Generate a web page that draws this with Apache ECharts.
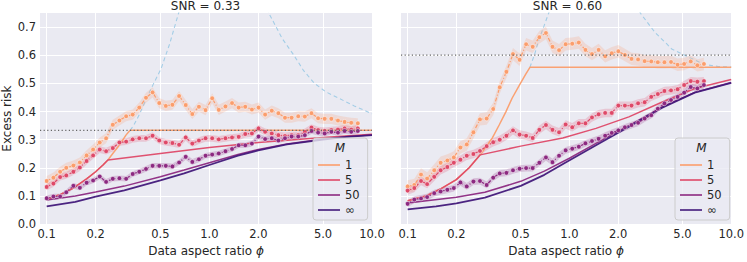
<!DOCTYPE html>
<html><head><meta charset="utf-8">
<script src="https://cdn.jsdelivr.net/npm/echarts@6/dist/echarts.min.js"></script>
<style>html,body{margin:0;padding:0;background:#fff}#c{width:747px;height:262px}</style>
</head><body><div id="c"></div>
<script>
// ---------------- data ----------------
const xTicks = [0.1, 0.2, 0.5, 1.0, 2.0, 5.0, 10.0];
const yTicks = [0.0, 0.1, 0.2, 0.3, 0.4, 0.5, 0.6, 0.7];
const panelTitles = ['SNR = 0.33', 'SNR = 0.60'];
const legendNames = ['1', '5', '50', '\u221e'];
const snrLeft = 0.333, snrRight = 0.60;

const phiLeft = [0.100,0.110,0.121,0.132,0.146,0.160,0.176,0.193,0.212,0.232,0.255,0.280,0.308,0.338,0.371,0.408,0.448,0.492,0.540,0.593,0.652,0.716,0.786,0.863,0.948,1.041,1.143,1.256,1.379,1.515,1.663,1.827,2.006,2.203,2.420,2.657,2.918,3.205,3.520,3.866,4.246,4.663,5.121,5.624,6.177,6.784,7.450,8.182];
const phiRight = [0.100,0.110,0.121,0.132,0.146,0.160,0.176,0.193,0.212,0.232,0.255,0.280,0.308,0.338,0.371,0.408,0.448,0.492,0.540,0.593,0.652,0.716,0.786,0.863,0.948,1.041,1.143,1.256,1.379,1.515,1.663,1.827,2.006,2.203,2.420,2.657,2.918,3.205,3.520,3.866,4.246,4.663,5.121,5.624,6.177,6.784];

// simulated (dotted) series, left panel
const simM1Left = [0.153,0.165,0.186,0.200,0.208,0.219,0.244,0.265,0.290,0.305,0.353,0.368,0.383,0.389,0.414,0.449,0.468,0.430,0.420,0.424,0.455,0.423,0.391,0.417,0.405,0.447,0.406,0.418,0.430,0.414,0.417,0.407,0.414,0.389,0.403,0.394,0.378,0.378,0.383,0.382,0.394,0.376,0.374,0.374,0.368,0.363,0.360,0.358];
const simM5Left = [0.132,0.144,0.167,0.173,0.186,0.201,0.224,0.244,0.265,0.259,0.270,0.290,0.293,0.301,0.305,0.305,0.314,0.297,0.290,0.288,0.282,0.308,0.286,0.297,0.305,0.305,0.301,0.305,0.308,0.310,0.320,0.322,0.340,0.328,0.322,0.316,0.313,0.316,0.316,0.328,0.343,0.334,0.331,0.334,0.336,0.340,0.336,0.340];
const simM50Left = [0.092,0.098,0.098,0.113,0.136,0.129,0.147,0.155,0.169,0.150,0.161,0.163,0.161,0.178,0.186,0.196,0.207,0.207,0.207,0.205,0.219,0.239,0.221,0.230,0.243,0.247,0.251,0.259,0.267,0.280,0.280,0.286,0.311,0.302,0.305,0.297,0.305,0.311,0.311,0.316,0.331,0.325,0.322,0.328,0.325,0.331,0.328,0.331];
// simulated (dotted) series, right panel
const simM1Right = [0.134,0.139,0.176,0.162,0.191,0.218,0.226,0.237,0.272,0.283,0.326,0.372,0.375,0.409,0.486,0.541,0.604,0.584,0.639,0.630,0.664,0.679,0.630,0.618,0.639,0.641,0.645,0.619,0.604,0.619,0.596,0.607,0.614,0.601,0.587,0.585,0.579,0.578,0.575,0.575,0.576,0.566,0.569,0.578,0.564,0.569];
const simM5Right = [0.119,0.128,0.153,0.142,0.168,0.191,0.203,0.218,0.229,0.243,0.249,0.260,0.277,0.291,0.300,0.314,0.333,0.318,0.314,0.306,0.335,0.352,0.335,0.326,0.354,0.344,0.358,0.358,0.379,0.390,0.395,0.395,0.421,0.421,0.421,0.429,0.433,0.452,0.462,0.473,0.475,0.479,0.494,0.508,0.506,0.508];
const simM50Right = [0.072,0.087,0.091,0.096,0.110,0.116,0.122,0.128,0.148,0.134,0.151,0.153,0.139,0.165,0.180,0.182,0.191,0.197,0.199,0.199,0.218,0.237,0.220,0.243,0.262,0.268,0.275,0.287,0.295,0.303,0.314,0.324,0.333,0.344,0.352,0.360,0.375,0.387,0.410,0.429,0.441,0.452,0.467,0.487,0.482,0.494];
// confidence band half widths
const bandLeft = [0.018, 0.012, 0.010];
const bandRight = [0.022, 0.015, 0.012];

// theory (solid) lines, left panel
const thM1Left_x = [0.1,0.12,0.145,0.176,0.2,0.222,0.238,0.255,0.281,0.308,0.326,0.5,1,2,5,10];
const thM1Left_y = [0.087,0.104,0.127,0.161,0.186,0.210,0.228,0.251,0.282,0.317,0.333,0.333,0.333,0.333,0.333,0.333];
const thM5Left_x = [0.1,0.12,0.145,0.176,0.2,0.222,0.238,0.5,1,2,5,10];
const thM5Left_y = [0.087,0.104,0.127,0.161,0.186,0.210,0.228,0.251,0.272,0.290,0.308,0.319];
const thM50Left_x = [0.1,0.15,0.2,0.3,0.5,0.7,1,1.5,2,3,5,7,10];
const thM50Left_y = [0.086,0.100,0.114,0.135,0.168,0.192,0.218,0.247,0.265,0.285,0.302,0.311,0.317];
const thInfLeft_x = [0.1,0.15,0.2,0.3,0.5,0.7,1,1.5,2,3,5,7,10];
const thInfLeft_y = [0.063,0.079,0.098,0.120,0.155,0.180,0.210,0.243,0.262,0.283,0.300,0.310,0.316];
// theory (solid) lines, right panel
const thM1Right_x = [0.1,0.13,0.16,0.2,0.24,0.281,0.334,0.368,0.404,0.443,0.487,0.535,0.57,1,2,5,10];
const thM1Right_y = [0.083,0.100,0.125,0.158,0.200,0.246,0.306,0.352,0.398,0.448,0.490,0.531,0.557,0.557,0.557,0.557,0.557];
const thM5Right_x = [0.1,0.13,0.16,0.2,0.24,0.281,0.5,0.91,1.46,2.33,3.72,5.95,10];
const thM5Right_y = [0.083,0.100,0.125,0.158,0.200,0.246,0.277,0.306,0.340,0.381,0.433,0.482,0.514];
const thM50Right_x = [0.1,0.2,0.3,0.5,0.7,1.0,1.46,2.33,3.72,5.95,10];
const thM50Right_y = [0.075,0.095,0.113,0.152,0.188,0.234,0.287,0.350,0.415,0.468,0.503];
const thInfRight_x = [0.1,0.15,0.2,0.3,0.5,0.7,0.93,1.46,2.33,3.72,5.95,10];
const thInfRight_y = [0.052,0.063,0.074,0.094,0.136,0.175,0.216,0.280,0.346,0.413,0.467,0.502];

// light-blue dashed curves (two branches each)
const blueLeftA_x = [0.326,0.343,0.372,0.41,0.455,0.505,0.57,0.646,0.67];
const blueLeftA_y = [0.333,0.351,0.39,0.445,0.50,0.552,0.64,0.748,0.78];
const blueLeftB_x = [2.2,2.33,2.8,3.31,3.8,4.43,5.2,6.15,7.78,10];
const blueLeftB_y = [0.79,0.748,0.66,0.60,0.545,0.50,0.47,0.449,0.42,0.392];
const blueRightA_x = [0.57,0.611,0.64,0.744,0.78];
const blueRightA_y = [0.557,0.605,0.646,0.749,0.79];
const blueRightB_x = [2.6,2.75,3.39,4.0,4.29,5.5,6.86,8.3,10];
const blueRightB_y = [0.78,0.749,0.68,0.64,0.622,0.592,0.567,0.56,0.558];

// ---------------- style ----------------
const colors = ['#fb9d6c', '#de4968', '#8c2981', '#42197a'];
const XMIN = 0.091, XMAX = 10;
const FONT = 'DejaVu Sans';
const TXT = '#262626';
const grids = [{left: 39, top: 13, width: 333, height: 217}, {left: 401, top: 13, width: 333, height: 217}];

const zip = (xs, ys) => xs.map((x, i) => [x, ys[i]]);

function bandSeries(g, xs, ys, h, color, key) {
  const pts = xs.map((x, k) => [x, ys[k] - h, ys[k] + h]);
  return {
    type: 'custom', name: key, xAxisIndex: g, yAxisIndex: g, silent: true, z: 2,
    data: pts, encode: {x: 0, y: [1, 2]},
    renderItem: (params, api) => {
      if (params.dataIndex !== 0) return null;
      const up = pts.map(p => api.coord([p[0], p[2]]));
      const lo = pts.map(p => api.coord([p[0], p[1]])).reverse();
      return {type: 'polygon', shape: {points: up.concat(lo)}, style: {fill: color, opacity: 0.22}};
    }
  };
}

function panel(g, P) {
  const s = [];
  const common = {xAxisIndex: g, yAxisIndex: g, showSymbol: false, silent: true, animation: false};
  [P.blueA, P.blueB].forEach((b, i) => s.push(Object.assign({}, common, {
    type: 'line', name: 'blue' + g + i, data: b, z: 1,
    lineStyle: {color: '#a3cde6', width: 1.1, type: [4, 3]}
  })));
  P.sims.forEach((sim, i) => s.push(bandSeries(g, P.phi, sim, P.band[i], colors[i], 'band' + g + i)));
  P.theory.forEach((t, i) => s.push(Object.assign({}, common, {
    type: 'line', name: legendNames[i], data: t, z: 3, symbol: 'none',
    itemStyle: {color: colors[i]},
    lineStyle: {color: colors[i], width: i === 3 ? 1.8 : 1.5, opacity: 0.95}
  })));
  P.sims.forEach((sim, i) => s.push(Object.assign({}, common, {
    type: 'line', name: 'sim' + g + i, data: zip(P.phi, sim), z: 4,
    showSymbol: true, symbol: 'circle', symbolSize: 4.6,
    itemStyle: {color: colors[i], borderColor: '#ffffff', borderWidth: 0.5},
    lineStyle: {color: colors[i], width: 1.2, type: [4, 2, 1, 2]}
  })));
  s.push(Object.assign({}, common, {
    type: 'line', name: 'snr' + g, data: [[XMIN, P.snr], [XMAX, P.snr]], z: 5, symbol: 'none',
    lineStyle: {color: '#666666', width: 1.2, type: [1.2, 2.4]}
  }));
  return s;
}

const series = [].concat(
  panel(0, {
    phi: phiLeft, sims: [simM1Left, simM5Left, simM50Left], band: bandLeft, snr: snrLeft,
    theory: [zip(thM1Left_x, thM1Left_y), zip(thM5Left_x, thM5Left_y), zip(thM50Left_x, thM50Left_y), zip(thInfLeft_x, thInfLeft_y)],
    blueA: zip(blueLeftA_x, blueLeftA_y), blueB: zip(blueLeftB_x, blueLeftB_y)
  }),
  panel(1, {
    phi: phiRight, sims: [simM1Right, simM5Right, simM50Right], band: bandRight, snr: snrRight,
    theory: [zip(thM1Right_x, thM1Right_y), zip(thM5Right_x, thM5Right_y), zip(thM50Right_x, thM50Right_y), zip(thInfRight_x, thInfRight_y)],
    blueA: zip(blueRightA_x, blueRightA_y), blueB: zip(blueRightB_x, blueRightB_y)
  })
);

function xAxis(g) {
  return {
    type: 'log', logBase: 10, gridIndex: g, min: XMIN, max: XMAX,
    name: 'Data aspect ratio {i|\u03d5}', nameLocation: 'middle', nameGap: 19,
    nameTextStyle: {fontFamily: FONT, fontSize: 12, color: TXT,
      rich: {i: {fontFamily: FONT, fontSize: 12, color: TXT, fontStyle: 'italic'}}},
    axisLine: {show: false}, axisTick: {show: false, customValues: xTicks},
    axisLabel: {customValues: xTicks, formatter: v => Number(v).toFixed(1), fontFamily: FONT, fontSize: 11.5, color: TXT, margin: 4},
    splitLine: {show: true, lineStyle: {color: '#ffffff', width: 1}}
  };
}
function yAxis(g) {
  return {
    type: 'value', gridIndex: g, min: 0, max: 0.75,
    name: g === 0 ? 'Excess risk' : '', nameLocation: 'middle', nameGap: 27,
    nameTextStyle: {fontFamily: FONT, fontSize: 12, color: TXT},
    axisLine: {show: false}, axisTick: {show: false, customValues: yTicks},
    axisLabel: {show: g === 0, customValues: yTicks, formatter: v => Number(v).toFixed(1), fontFamily: FONT, fontSize: 11.5, color: TXT, margin: 4},
    splitLine: {show: true, lineStyle: {color: '#ffffff', width: 1}}
  };
}
function legend(left) {
  return {
    data: legendNames, orient: 'vertical', left: left, top: 138,
    padding: [21, 8, 4, 5], itemWidth: 22, itemHeight: 2, itemGap: 3, icon: 'rect',
    backgroundColor: 'rgba(234,234,242,0.8)', borderColor: '#cccccc', borderWidth: 1, borderRadius: 3,
    textStyle: {fontFamily: FONT, fontSize: 11.5, color: TXT},
    itemStyle: {opacity: 0.8}, selectedMode: false
  };
}

const chart = echarts.init(document.getElementById('c'), null, {renderer: 'svg', width: 747, height: 262});
chart.setOption({
  animation: false,
  backgroundColor: '#ffffff',
  grid: grids.map(gr => Object.assign({show: true, backgroundColor: '#eaeaf2', borderWidth: 0, containLabel: false}, gr)),
  xAxis: [xAxis(0), xAxis(1)],
  yAxis: [yAxis(0), yAxis(1)],
  legend: [legend(313), legend(675)],
  graphic: [
    {type: 'text', x: 205.5, y: 0, style: {text: panelTitles[0], font: '12px "DejaVu Sans"', fill: TXT, textAlign: 'center', textVerticalAlign: 'top'}},
    {type: 'text', x: 567.5, y: 0, style: {text: panelTitles[1], font: '12px "DejaVu Sans"', fill: TXT, textAlign: 'center', textVerticalAlign: 'top'}},
    {type: 'text', x: 340, y: 148, z: 100, style: {text: 'M', font: 'italic 12px "DejaVu Sans"', fill: TXT, textAlign: 'center', textVerticalAlign: 'middle'}},
    {type: 'text', x: 701.5, y: 148, z: 100, style: {text: 'M', font: 'italic 12px "DejaVu Sans"', fill: TXT, textAlign: 'center', textVerticalAlign: 'middle'}}
  ],
  series: series
});
</script></body></html>
